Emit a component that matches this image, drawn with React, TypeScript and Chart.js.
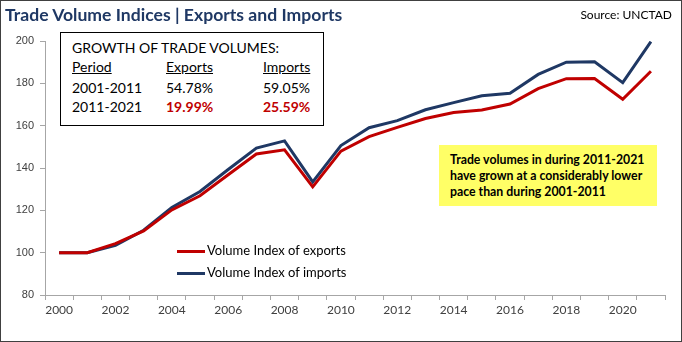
import React, { useEffect, useRef } from "react";
import { Chart, registerables } from "chart.js";

Chart.register(...registerables);

const years: string[] = [
  "2000", "2001", "2002", "2003", "2004", "2005", "2006", "2007", "2008", "2009", "2010",
  "2011", "2012", "2013", "2014", "2015", "2016", "2017", "2018", "2019", "2020", "2021",
];
const exportsIdx: number[] = [
  100, 100, 104.3, 110.3, 120.2, 126.9, 136.8, 146.6, 148.6, 131.1, 148,
  154.8, 159.2, 163.4, 166.2, 167.4, 170.2, 177.5, 182.2, 182.3, 172.5, 185.7,
];
const importsIdx: number[] = [
  100, 100, 103.5, 110.6, 121.4, 128.9, 139.3, 149.4, 152.8, 133.4, 150.6,
  159.05, 162.4, 167.5, 170.9, 174.1, 175.3, 184.2, 190, 190.2, 180.3, 199.7,
];
const yTicks = { min: 80, max: 200, step: 20 };
const growthHeaders: string[] = ["Period", "Exports", "Imports"];
const growthRows: [string, string, string][] = [
  ["2001-2011", "54.78%", "59.05%"],
  ["2011-2021", "19.99%", "25.59%"],
];
const noteLines: string[] = [
  "Trade volumes in during 2011-2021",
  "have grown at a considerably lower",
  "pace than during 2001-2011",
];

const RED = "#C00000";
const BLUE = "#1F3864";
const CAL = "Lato, 'Open Sans', sans-serif";

export default function App() {
  const ref = useRef<HTMLCanvasElement | null>(null);
  useEffect(() => {
    document.body.style.margin = "0";
    if (!ref.current) return;
    const chart = new Chart(ref.current, {
      type: "line",
      data: {
        labels: years,
        datasets: [
          { label: "Volume Index of exports", data: exportsIdx, borderColor: RED, backgroundColor: RED, borderWidth: 3, pointRadius: 0, tension: 0 },
          { label: "Volume Index of imports", data: importsIdx, borderColor: BLUE, backgroundColor: BLUE, borderWidth: 3, pointRadius: 0, tension: 0 },
        ],
      },
      options: {
        animation: false,
        responsive: false,
        maintainAspectRatio: false,
        layout: { padding: { left: 0, right: 16, top: 40, bottom: 0 } },
        plugins: { legend: { display: false }, tooltip: { enabled: false } },
        scales: {
          x: {
            offset: true,
            grid: { offset: true, drawOnChartArea: false, tickLength: 5, color: "#A6A6A6" },
            border: { color: "#A6A6A6", width: 1 },
            ticks: {
              autoSkip: false,
              maxRotation: 0,
              padding: 3,
              color: "#404040",
              font: { family: CAL, size: 12 },
              callback: (_v: any, i: number) => (i % 2 === 0 ? years[i] : ""),
            },
            afterFit: (s: any) => { s.height = 46; },
          },
          y: {
            min: yTicks.min,
            max: yTicks.max,
            ticks: { stepSize: yTicks.step, padding: 6, color: "#404040", font: { family: "'Liberation Sans', Arial, sans-serif", size: 11 } },
            grid: { drawOnChartArea: false, tickLength: 5, color: "#A6A6A6" },
            border: { color: "#A6A6A6", width: 1 },
            afterFit: (s: any) => { s.width = 44; },
          },
        },
      },
    });
    return () => chart.destroy();
  }, []);

  const txt: React.CSSProperties = { position: "absolute", fontFamily: CAL, whiteSpace: "nowrap", lineHeight: 1 };
  const cols = [71, 165, 262];

  return (
    <div style={{ position: "relative", width: 682, height: 342, boxSizing: "border-box", border: "1px solid #404040", background: "#fff", overflow: "hidden" }}>
      <canvas ref={ref} width={680} height={340} style={{ position: "absolute", left: 0, top: 0, width: 680, height: 340 }} />
      <div style={{ ...txt, left: 4, top: 5, fontSize: 17.6, fontWeight: 700, color: BLUE }}>
        Trade Volume Indices | Exports and Imports
      </div>
      <div style={{ ...txt, right: 9, top: 8, fontSize: 12, color: "#000" }}>Source: UNCTAD</div>

      <div style={{ position: "absolute", left: 59, top: 31, width: 264, height: 94, boxSizing: "border-box", border: "1.5px solid #000", background: "#fff" }} />
      <div style={{ ...txt, left: 71, top: 40, fontSize: 14, color: "#000" }}>GROWTH OF TRADE VOLUMES:</div>
      {growthHeaders.map((h, i) => (
        <div key={h} style={{ ...txt, left: cols[i], top: 59, fontSize: 14, color: "#000", textDecoration: "underline" }}>{h}</div>
      ))}
      {growthRows.map((r, ri) => (
        <React.Fragment key={r[0]}>
          {r.map((c, ci) => (
            <div key={ci} style={{ ...txt, left: cols[ci], top: 80 + ri * 18.5, fontSize: 14, color: ri === 1 && ci > 0 ? RED : "#000", fontWeight: ri === 1 && ci > 0 ? 700 : 400 }}>{c}</div>
          ))}
        </React.Fragment>
      ))}

      <div style={{ position: "absolute", left: 438, top: 144, width: 218, height: 61, background: "#FFFF66" }} />
      {noteLines.map((l, i) => (
        <div key={i} style={{ ...txt, left: 449, top: 153 + i * 16, fontSize: 12.3, fontWeight: 700, color: "#000" }}>{l}</div>
      ))}

      {[
        { c: RED, t: "Volume Index of exports", y: 250 },
        { c: BLUE, t: "Volume Index of imports", y: 272 },
      ].map((e) => (
        <React.Fragment key={e.t}>
          <div style={{ position: "absolute", left: 176, top: e.y - 1.5, width: 28, height: 3, background: e.c }} />
          <div style={{ ...txt, left: 206, top: e.y - 7, fontSize: 13, color: "#000" }}>{e.t}</div>
        </React.Fragment>
      ))}
    </div>
  );
}
